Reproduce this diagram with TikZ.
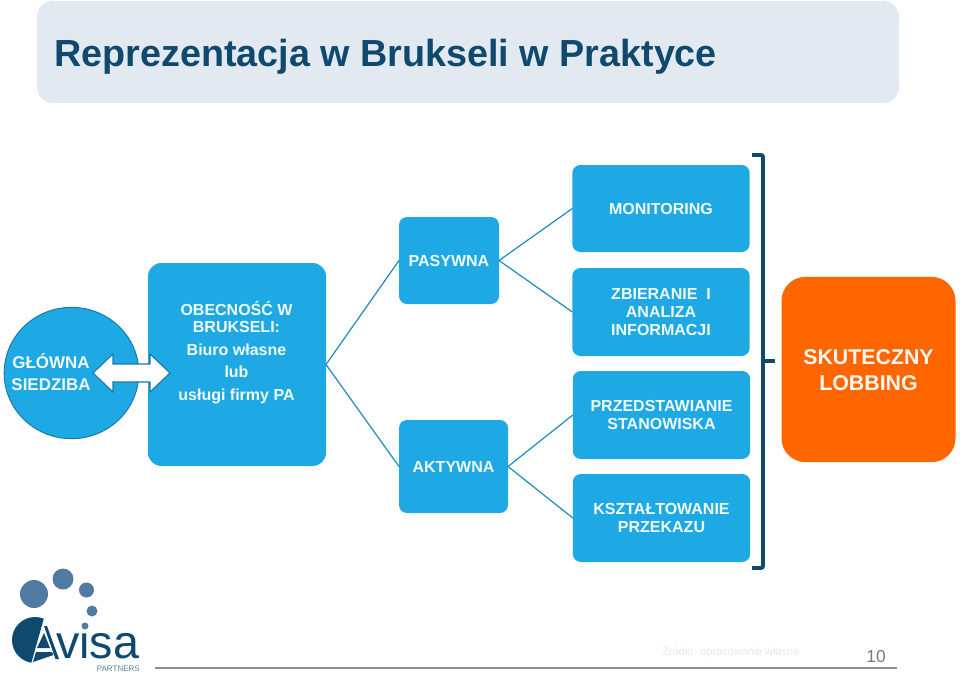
\documentclass[tikz,border=0pt]{standalone}
\usepackage{fontspec}
\setmainfont{Liberation Sans}
\usetikzlibrary{shapes.geometric}
\definecolor{boxblue}{HTML}{1EA9E4}
\definecolor{navy}{HTML}{0F4A6E}
\definecolor{titlebg}{HTML}{E3E9F1}
\definecolor{orangebox}{HTML}{FF6600}
\definecolor{dotblue}{HTML}{4F7BA3}
\definecolor{linkblue}{HTML}{1B8CC0}
\definecolor{footline}{HTML}{8A8F99}
\tikzset{
  x=0.75pt,y=-0.75pt,
  bluebox/.style={fill=boxblue,draw=none,rounded corners=6pt,inner sep=0pt,outer sep=0pt},
  boxtext/.style={text=white!94!boxblue,font=\fontsize{12pt}{13.6pt}\selectfont\bfseries,align=center,inner sep=0pt},
  link/.style={draw=linkblue,line width=0.9pt},
}
\begin{document}
\begin{tikzpicture}
\useasboundingbox (0,0) rectangle (960,675);
\fill[white] (0,0) rectangle (960,675);
% title band
\node[fill=titlebg,rounded corners=12pt,minimum width=646.5pt,minimum height=76.5pt,inner sep=0pt,anchor=center] (band) at (468,52) {};
\node[anchor=west,text=navy,font=\fontsize{28.3pt}{30pt}\selectfont\bfseries,inner sep=0pt] (title) at (54,56.5) {Reprezentacja w Brukseli w Praktyce};
% circle
\node[ellipse,fill=boxblue,draw=linkblue!70!navy,line width=0.7pt,minimum width=101pt,minimum height=98.5pt,inner sep=0pt] (hq) at (71.5,373) {};
\node[boxtext,font=\fontsize{12.7pt}{16pt}\selectfont\bfseries] (hqt) at (51,372) {GŁÓWNA\\SIEDZIBA};
% presence
\node[bluebox,rounded corners=10pt,minimum width=133.5pt,minimum height=152.25pt] (obec) at (237,364.5) {};
\node[boxtext,font=\fontsize{12pt}{13pt}\selectfont\bfseries] (obect) at (236.5,352.5) {OBECNOŚĆ W\\BRUKSELI:\\[4pt]Biuro własne\\[4pt]lub\\[4pt]usługi firmy PA};
% double arrow
\path[draw=linkblue!70!navy,fill=white,line width=0.8pt,line join=miter] (93,373) -- (113,354) -- (113,364) -- (150,364) -- (150,354) -- (170,373) -- (150,392) -- (150,382) -- (113,382) -- (113,392) -- cycle;
% second level
\node[bluebox,minimum width=75pt,minimum height=65.25pt] (pas) at (449,260.5) {};
\node[boxtext] at (pas.center) {PASYWNA};
\node[bluebox,minimum width=81.75pt,minimum height=69.75pt] (akt) at (453.5,466.5) {};
\node[boxtext] at (akt.center) {AKTYWNA};
% third level
\node[bluebox,minimum width=133pt,minimum height=65.25pt] (mon) at (661,208.5) {};
\node[boxtext] at (mon.center) {MONITORING};
\node[bluebox,minimum width=133pt,minimum height=66pt] (zbi) at (661,312) {};
\node[boxtext] at (zbi.center) {ZBIERANIE~~I\\ANALIZA\\INFORMACJI};
\node[bluebox,minimum width=133pt,minimum height=66pt] (prz) at (661.5,415) {};
\node[boxtext] at (prz.center) {PRZEDSTAWIANIE\\STANOWISKA};
\node[bluebox,minimum width=133pt,minimum height=66pt] (ksz) at (661.5,518) {};
\node[boxtext] at (ksz.center) {KSZTAŁTOWANIE\\PRZEKAZU};
% connectors
\draw[link] (obec.east) -- (pas.west);
\draw[link] (obec.east) -- (akt.west);
\draw[link] (pas.east) -- (mon.west);
\draw[link] (pas.east) -- (zbi.west);
\draw[link] (akt.east) -- (prz.west);
\draw[link] (akt.east) -- (ksz.west);
% result
\node[fill=orangebox,rounded corners=18pt,minimum width=130.5pt,minimum height=139pt,inner sep=0pt] (lob) at (868.5,369.5) {};
\node[text=white!94!orangebox,font=\fontsize{16pt}{19.5pt}\selectfont\bfseries,align=center,inner sep=0pt] (lobt) at (868.5,370) {SKUTECZNY\\LOBBING};
% bracket
\coordinate (brt) at (752,155);
\coordinate (brb) at (752,568);
\coordinate (brm) at (763,361);
\coordinate (brs) at (775,361);
\draw[navy,line width=2.8pt,rounded corners=1.5pt] (brt) -- (763,155) -- (763,568) -- (brb);
\draw[navy,line width=2.8pt] (brm) -- (brs);
% footer
\node[anchor=west,text=titlebg,font=\fontsize{8.2pt}{10pt}\selectfont,inner sep=0pt] (src) at (662,652) {Źródło: opracowanie własne};
\node[text=black!52,font=\fontsize{13pt}{15pt}\selectfont,inner sep=0pt] (pg) at (876,657) {10};
\coordinate (fl) at (155,668);
\coordinate (fr) at (897,668);
\draw[footline,line width=1.5pt] (fl) -- (fr);
% logo
\node[anchor=base west,text=navy,font=\fontsize{35pt}{35pt}\selectfont,inner sep=0pt,text depth=0pt] (avisa) at (56,658) {visa};
\fill[white] (85,626) circle (5);
\fill[dotblue] (34,594) circle (14);
\fill[dotblue] (63,579) circle (10.5);
\fill[dotblue] (86.5,590) circle (7.5);
\fill[dotblue] (92,611) circle (5.5);
\fill[dotblue] (85,626) circle (3.5);
\begin{scope}
\clip (35,640) circle (23);
\fill[navy] (5,610) -- (47,610) -- (44,618) -- (31,664) -- (5,664) -- cycle;
\end{scope}
\fill[navy] (44,633) -- (50,648) -- (37,648) -- cycle;
\fill[navy] (36,652) -- (52,652) -- (53.5,655) -- (33,662) -- cycle;
\fill[navy] (44,626) -- (47,626) -- (59,659) -- (55.5,659) -- cycle;
\node[anchor=east,text=navy!70,font=\fontsize{6pt}{7pt}\selectfont,inner sep=0pt,text height=4.5pt,text depth=0pt] (partners) at (140,668) {PARTNERS};
\end{tikzpicture}
\end{document}
